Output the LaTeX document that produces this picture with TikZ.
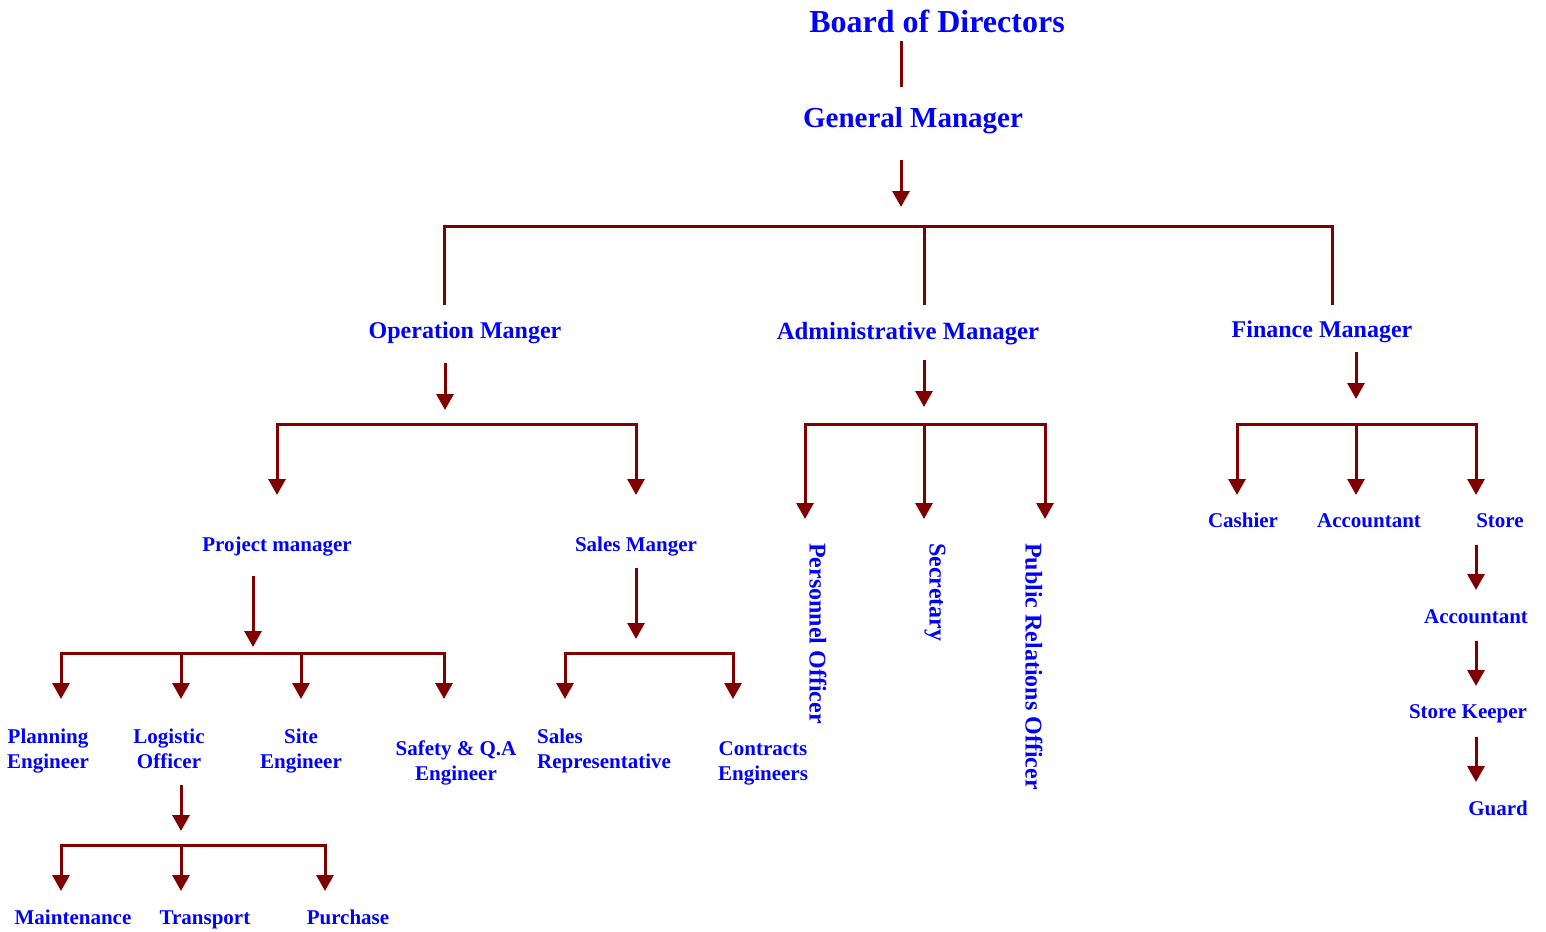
\documentclass[tikz,border=0pt]{standalone}
\usepackage{fontspec}
\setmainfont{Liberation Serif}
\usetikzlibrary{arrows.meta}
\definecolor{lnc}{HTML}{800000}
\definecolor{txc}{HTML}{0000FF}
\begin{document}
\begin{tikzpicture}[x=1pt,y=-1pt,
  lbl/.style={inner sep=0pt, text=txc, anchor=base, align=center, font=\bfseries\fontsize{21}{25}\selectfont},
  mid/.style={lbl, font=\bfseries\fontsize{24}{28}\selectfont},
  top/.style={lbl, font=\bfseries\fontsize{29}{34}\selectfont},
  ttl/.style={lbl, font=\bfseries\fontsize{32}{38}\selectfont},
  vert/.style={lbl, font=\bfseries\fontsize{24}{28}\selectfont, rotate=-90, anchor=west},
  ln/.style={draw=lnc, line width=3pt, line cap=rect},
  arr/.style={draw=lnc, line width=3pt, -{Triangle[width=17pt,length=16pt]}}]
\useasboundingbox[fill=white] (0,0) rectangle (1546,931);

% ---- nodes ----
\node[ttl] (bod) at (937,33) {Board of Directors};
\node[top] (gm) at (913,128) {General Manager};
\node[mid] (om) at (465,338) {Operation Manger};
\node[mid, font=\bfseries\fontsize{24.8}{28}\selectfont] (am) at (908,339) {Administrative Manager};
\node[mid] (fm) at (1322,337) {Finance Manager};
\node[lbl] (pm) at (277,551) {Project manager};
\node[lbl] (sm) at (636,551) {Sales Manger};
\node[lbl] (pe) at (48,768) {Planning\\Engineer};
\node[lbl] (lo) at (169,768) {Logistic\\Officer};
\node[lbl] (se) at (301,768) {Site\\Engineer};
\node[lbl] (sq) at (456,780) {Safety \& Q.A\\Engineer};
\node[lbl, align=left, anchor=base west] (sr) at (537,768) {Sales\\Representative};
\node[lbl] (ce) at (763,780) {Contracts\\Engineers};
\node[lbl] (mt) at (73,924) {Maintenance};
\node[lbl] (tr) at (205,924) {Transport};
\node[lbl] (pu) at (348,924) {Purchase};
\node[vert] (po) at (818,543) {Personnel Officer};
\node[vert] (sec) at (935,543) {Secretary};
\node[vert] (pr) at (1034,543) {Public Relations Officer};
\node[lbl] (ca) at (1243,527) {Cashier};
\node[lbl] (ac) at (1369,527) {Accountant};
\node[lbl] (st) at (1500,527) {Store};
\node[lbl] (ac2) at (1476,623) {Accountant};
\node[lbl] (sk) at (1468,718) {Store Keeper};
\node[lbl] (gu) at (1498,815) {Guard};

% ---- coordinates ----
\coordinate (bod-s) at (901,41);
\coordinate (gm-n) at (901,87);
\coordinate (gm-s) at (901,160);
\coordinate (gm-t) at (901,207);
\coordinate (b1l) at (444,226);
\coordinate (b1m) at (924,226);
\coordinate (b1r) at (1332,226);
\coordinate (om-n) at (444,303);
\coordinate (am-n) at (924,303);
\coordinate (fm-n) at (1332,303);

\coordinate (om-s) at (445,363);
\coordinate (om-t) at (445,410);
\coordinate (b2l) at (277,424);
\coordinate (b2r) at (636,424);
\coordinate (pm-t) at (277,495);
\coordinate (sm-t) at (636,495);

\coordinate (am-s) at (924,360);
\coordinate (am-t) at (924,407);
\coordinate (b3l) at (805,424);
\coordinate (b3m) at (924,424);
\coordinate (b3r) at (1045,424);
\coordinate (po-t) at (805,519);
\coordinate (sec-t) at (924,519);
\coordinate (pr-t) at (1045,519);

\coordinate (fm-s) at (1356,352);
\coordinate (fm-t) at (1356,399);
\coordinate (b4l) at (1237,424);
\coordinate (b4m) at (1356,424);
\coordinate (b4r) at (1476,424);
\coordinate (ca-t) at (1237,495);
\coordinate (ac-t) at (1356,495);
\coordinate (st-t) at (1476,495);

\coordinate (pm-s) at (253,576);
\coordinate (pm-a) at (253,647);
\coordinate (b5a) at (61,653);
\coordinate (b5b) at (181,653);
\coordinate (b5c) at (301,653);
\coordinate (b5d) at (444,653);
\coordinate (pe-t) at (61,699);
\coordinate (lo-t) at (181,699);
\coordinate (se-t) at (301,699);
\coordinate (sq-t) at (444,699);

\coordinate (sm-s) at (636,568);
\coordinate (sm-a) at (636,639);
\coordinate (b6l) at (565,653);
\coordinate (b6r) at (733,653);
\coordinate (sr-t) at (565,699);
\coordinate (ce-t) at (733,699);

\coordinate (lo-s) at (181,785);
\coordinate (lo-a) at (181,831);
\coordinate (b7a) at (61,845);
\coordinate (b7b) at (181,845);
\coordinate (b7c) at (325,845);
\coordinate (mt-t) at (61,891);
\coordinate (tr-t) at (181,891);
\coordinate (pu-t) at (325,891);

\coordinate (st-s) at (1476,545);
\coordinate (ac2-t) at (1476,590);
\coordinate (ac2-s) at (1476,641);
\coordinate (sk-t) at (1476,686);
\coordinate (sk-s) at (1476,737);
\coordinate (gu-t) at (1476,782);

% ---- connectors ----
\draw[ln, line cap=butt] (bod-s) -- (gm-n);
\draw[arr] (gm-s) -- (gm-t);
\draw[ln] (b1l) -- (b1r);
\draw[ln] (b1l) -- (om-n);
\draw[ln] (b1m) -- (am-n);
\draw[ln] (b1r) -- (fm-n);

\draw[arr] (om-s) -- (om-t);
\draw[ln] (b2l) -- (b2r);
\draw[arr] (b2l) -- (pm-t);
\draw[arr] (b2r) -- (sm-t);

\draw[arr] (am-s) -- (am-t);
\draw[ln] (b3l) -- (b3r);
\draw[arr] (b3l) -- (po-t);
\draw[arr] (b3m) -- (sec-t);
\draw[arr] (b3r) -- (pr-t);

\draw[arr] (fm-s) -- (fm-t);
\draw[ln] (b4l) -- (b4r);
\draw[arr] (b4l) -- (ca-t);
\draw[arr] (b4m) -- (ac-t);
\draw[arr] (b4r) -- (st-t);

\draw[arr] (pm-s) -- (pm-a);
\draw[ln] (b5a) -- (b5d);
\draw[arr] (b5a) -- (pe-t);
\draw[arr] (b5b) -- (lo-t);
\draw[arr] (b5c) -- (se-t);
\draw[arr] (b5d) -- (sq-t);

\draw[arr] (sm-s) -- (sm-a);
\draw[ln] (b6l) -- (b6r);
\draw[arr] (b6l) -- (sr-t);
\draw[arr] (b6r) -- (ce-t);

\draw[arr] (lo-s) -- (lo-a);
\draw[ln] (b7a) -- (b7c);
\draw[arr] (b7a) -- (mt-t);
\draw[arr] (b7b) -- (tr-t);
\draw[arr] (b7c) -- (pu-t);

\draw[arr] (st-s) -- (ac2-t);
\draw[arr] (ac2-s) -- (sk-t);
\draw[arr] (sk-s) -- (gu-t);
\end{tikzpicture}
\end{document}
